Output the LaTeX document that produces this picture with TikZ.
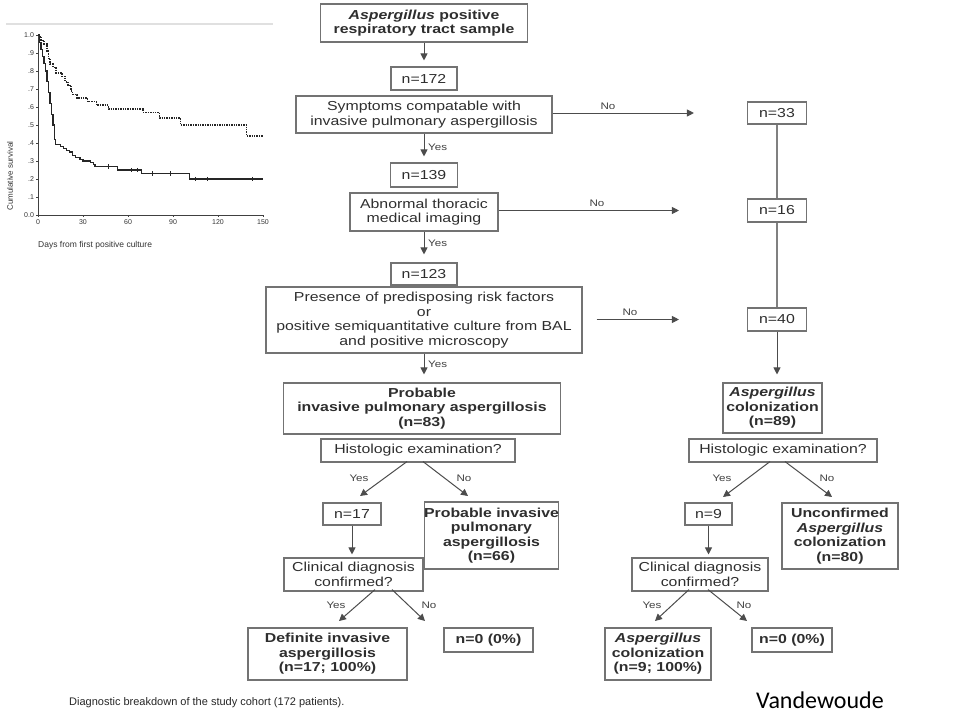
\documentclass[tikz,border=0pt]{standalone}
\usepackage{fontspec}
\setmainfont{Liberation Sans}
\newfontfamily\flow[FakeStretch=1.22]{Liberation Sans}
\newfontfamily\cali{Carlito}
\usetikzlibrary{arrows.meta}
\definecolor{boxc}{gray}{0.45}
\definecolor{txtc}{gray}{0.18}
\definecolor{arrc}{gray}{0.3}
\begin{document}
\begin{tikzpicture}[x=1pt,y=-1pt,
  flowbox/.style={draw=boxc, line width=1.1pt, inner sep=0pt, align=center, text=txtc,
    font=\flow\fontsize{13}{14.5}\selectfont},
  arr/.style={draw=arrc, line width=1pt, -{Triangle[length=7pt,width=7pt]}},
  conn/.style={draw=black!50, line width=1.3pt},
  lab/.style={font=\flow\fontsize{9.5}{10}\selectfont, text=black!75, inner sep=0pt},
  ticklab/.style={font=\fontsize{7}{8}\selectfont, text=black!80, inner sep=0pt},
  axis/.style={draw=black!75, line width=0.6pt},
  solidc/.style={draw=black!85, line width=1.3pt, line join=miter},
  dotc/.style={draw=black!85, line width=1.5pt, dash pattern=on 1.4pt off 1pt}]
\useasboundingbox (0,0) rectangle (960,720);

% ---------------- survival plot ----------------
\draw[draw=black!12, line width=2pt] (6,24) -- (273,24);
\begin{scope}[shift={(38,215)}, x=1.5pt, y=180pt]
  \draw[axis] (0,0) -- (0,1.0);
  \draw[axis] (0,0) -- (150,0);
  \foreach \v/\l in {0/0.0, 0.1/.1, 0.2/.2, 0.3/.3, 0.4/.4, 0.5/.5, 0.6/.6, 0.7/.7, 0.8/.8, 0.9/.9, 1/1.0}{
    \draw[axis] (0,\v) -- (-1.5,\v);
    \node[ticklab, anchor=east] at (-2.6,\v) {\l};
  }
  \foreach \d in {0,30,60,90,120,150}{
    \draw[axis] (\d,0) -- (\d,-0.012);
    \node[ticklab, anchor=north] at (\d,-0.025) {\d};
  }
  \draw[solidc] (0,1) -- (1,1) -- (1,.96) -- (2,.96) -- (2,.92) -- (3,.92) -- (3,.88) -- (4,.88)
    -- (4,.84) -- (5,.84) -- (5,.80) -- (6,.80) -- (6,.74) -- (7,.74) -- (7,.68) -- (8,.68)
    -- (8,.62) -- (9,.62) -- (9,.56) -- (10,.56) -- (10,.50) -- (11,.50) -- (11,.42) -- (11.5,.42)
    -- (11.5,.39) -- (15,.39) -- (15,.38) -- (17,.38) -- (17,.37) -- (19,.37) -- (19,.36) -- (21,.36)
    -- (21,.35) -- (23,.35) -- (23,.33) -- (25,.33) -- (25,.32) -- (28,.32) -- (28,.31) -- (30,.31)
    -- (30,.30) -- (35,.30) -- (35,.29) -- (37,.29) -- (37,.28) -- (38,.28) -- (38,.27) -- (53,.27)
    -- (53,.25) -- (69,.25) -- (69,.23) -- (101,.23) -- (101,.20) -- (150,.20);
  \foreach \d/\v in {47/.27, 62/.25, 66/.25, 76/.23, 88/.23, 105/.20, 113/.20, 143/.20}{
    \draw[black!85, line width=0.6pt] (\d,\v+0.012) -- (\d,\v-0.012);
  }
  \draw[dotc] (0,1) -- (1,1) -- (1,.99) -- (2,.99) -- (2,.97) -- (4,.97) -- (4,.95) -- (6,.95)
    -- (6,.91) -- (7,.91) -- (7,.87) -- (8,.87) -- (8,.84) -- (10,.84) -- (10,.82) -- (12,.82)
    -- (12,.79) -- (16,.79) -- (16,.77) -- (18,.77) -- (18,.74) -- (20,.74) -- (20,.72) -- (22,.72)
    -- (22,.69) -- (23,.69) -- (23,.67) -- (26,.67) -- (26,.65) -- (33,.65) -- (33,.63) -- (39,.63)
    -- (39,.61) -- (47,.61) -- (47,.59) -- (70,.59) -- (70,.57) -- (81,.57) -- (81,.54) -- (95,.54)
    -- (95,.50) -- (139,.50) -- (139,.44) -- (150,.44);
\end{scope}
\node[font=\fontsize{8}{9}\selectfont, text=black!80, rotate=90, inner sep=0pt] (ylab) at (10,176) {Cumulative survival};
\node[font=\fontsize{8.5}{9}\selectfont, text=black!80, anchor=west, inner sep=0pt] (xlab) at (38,245) {Days from first positive culture};

% ---------------- flowchart, main column ----------------
\node[flowbox, minimum width=207pt, minimum height=38pt] (b1) at (424,23)
  {\textbf{\textit{Aspergillus} positive}\\\textbf{respiratory tract sample}};
\node[flowbox, minimum width=66pt, minimum height=23pt] (n172) at (424,78.5) {n=172};
\node[flowbox, minimum width=256pt, minimum height=37pt] (symp) at (424,114.5)
  {Symptoms compatable with\\invasive pulmonary aspergillosis};
\node[flowbox, minimum width=67pt, minimum height=24pt] (n139) at (424,175) {n=139};
\node[flowbox, minimum width=148pt, minimum height=38pt] (abn) at (424,212)
  {Abnormal thoracic\\medical imaging};
\node[flowbox, minimum width=66pt, minimum height=22pt] (n123) at (424,274) {n=123};
\node[flowbox, minimum width=316pt, minimum height=66pt] (pres) at (424,320)
  {Presence of predisposing risk factors\\or\\positive semiquantitative culture from BAL\\and positive microscopy};

% ---------------- right column ----------------
\node[flowbox, minimum width=59pt, minimum height=22pt] (n33) at (777,113) {n=33};
\node[flowbox, minimum width=59pt, minimum height=23pt] (n16) at (777,210.5) {n=16};
\node[flowbox, minimum width=59pt, minimum height=23pt] (n40) at (777,319.5) {n=40};

% ---------------- left bottom ----------------
\node[flowbox, minimum width=277pt, minimum height=51pt] (prob) at (422,408.5)
  {\textbf{Probable}\\\textbf{invasive pulmonary aspergillosis}\\\textbf{(n=83)}};
\node[flowbox, minimum width=194pt, minimum height=23pt] (hist1) at (418,450.5) {Histologic examination?};
\node[flowbox, minimum width=58pt, minimum height=22pt] (n17) at (352,514) {n=17};
\node[flowbox, minimum width=131pt, minimum height=67pt] (pia) at (491.5,535.5)
  {\textbf{Probable invasive}\\\textbf{pulmonary}\\\textbf{aspergillosis}\\\textbf{(n=66)}};
\node[flowbox, minimum width=139pt, minimum height=33pt] (clin1) at (353.5,574.5)
  {Clinical diagnosis\\confirmed?};
\node[flowbox, minimum width=159pt, minimum height=52pt] (def) at (327.5,654)
  {\textbf{Definite invasive}\\\textbf{aspergillosis}\\\textbf{(n=17; 100\%)}};
\node[flowbox, minimum width=89pt, minimum height=24pt] (n0a) at (488.5,640) {\textbf{n=0 (0\%)}};

% ---------------- right bottom ----------------
\node[flowbox, minimum width=99pt, minimum height=50pt] (col) at (772.5,408)
  {\textbf{\textit{Aspergillus}}\\\textbf{colonization}\\\textbf{(n=89)}};
\node[flowbox, minimum width=188pt, minimum height=23pt] (hist2) at (783,450.5) {Histologic examination?};
\node[flowbox, minimum width=47pt, minimum height=22pt] (n9) at (708.5,514) {n=9};
\node[flowbox, minimum width=116pt, minimum height=66pt] (unc) at (840,536)
  {\textbf{Unconfirmed}\\\textbf{\textit{Aspergillus}}\\\textbf{colonization}\\\textbf{(n=80)}};
\node[flowbox, minimum width=136pt, minimum height=33pt] (clin2) at (700,574.5)
  {Clinical diagnosis\\confirmed?};
\node[flowbox, minimum width=106pt, minimum height=52pt] (acol) at (658,654)
  {\textbf{\textit{Aspergillus}}\\\textbf{colonization}\\\textbf{(n=9; 100\%)}};
\node[flowbox, minimum width=80pt, minimum height=24pt] (n0b) at (792,640) {\textbf{n=0 (0\%)}};

% ---------------- connectors, main column ----------------
\draw[arr, shorten >=6pt] (b1.south) -- (n172.north);
\draw[arr, shorten >=6pt] (symp.south) -- (n139.north);
\draw[arr, shorten >=8pt] (abn.south) -- (n123.north);
\draw[arr, shorten >=8pt] (pres.south) -- (pres.south |- prob.north);
\node[lab, anchor=west] (y1) at (428,147) {Yes};
\node[lab, anchor=west] (y2) at (428,243) {Yes};
\node[lab, anchor=west] (y3) at (428,364) {Yes};

% No branches
\draw[arr, shorten >=53pt] (symp.east |- n33.west) -- (n33.west);
\draw[arr, shorten >=68pt] (abn.east |- n16.west) -- (n16.west);
\draw[arr, shorten <=14pt, shorten >=68pt] (pres.east |- n40.west) -- (n40.west);
\node[lab] (no1) at (608,106) {No};
\node[lab] (no2) at (597,203) {No};
\node[lab] (no3) at (630,312) {No};

% right column
\draw[conn] (n33.south) -- (n16.north);
\draw[conn] (n16.south) -- (n40.north);
\draw[arr, shorten >=8pt] (n40.south) -- (n40.south |- col.north);

% ---------------- left bottom connectors ----------------
\coordinate (h1y) at (360,496);
\coordinate (h1n) at (468,496);
\draw[arr] ([xshift=-11pt,yshift=1pt]hist1.south) -- (h1y);
\draw[arr] ([xshift=5pt,yshift=1pt]hist1.south) -- (h1n);
\node[lab] (h1yl) at (359,478) {Yes};
\node[lab] (h1nl) at (464,478) {No};
\draw[arr, shorten >=3pt] (n17.south) -- (n17.south |- clin1.north);
\coordinate (c1y) at (339,621);
\coordinate (c1n) at (425,621);
\draw[arr] ([xshift=21.5pt,yshift=2pt]clin1.south) -- (c1y);
\draw[arr] ([xshift=38.5pt,yshift=2pt]clin1.south) -- (c1n);
\node[lab] (c1yl) at (336,605) {Yes};
\node[lab] (c1nl) at (429,605) {No};

% ---------------- right bottom connectors ----------------
\coordinate (h2y) at (723,497);
\coordinate (h2n) at (832,497);
\draw[arr] ([xshift=-13pt,yshift=1pt]hist2.south) -- (h2y);
\draw[arr] ([xshift=2pt,yshift=1pt]hist2.south) -- (h2n);
\node[lab] (h2yl) at (722,478) {Yes};
\node[lab] (h2nl) at (827,478) {No};
\draw[arr, shorten >=3pt] (n9.south) -- (n9.south |- clin2.north);
\coordinate (c2y) at (655,621);
\coordinate (c2n) at (747,621);
\draw[arr] ([xshift=-11pt,yshift=2pt]clin2.south) -- (c2y);
\draw[arr] ([xshift=8pt,yshift=2pt]clin2.south) -- (c2n);
\node[lab] (c2yl) at (652,605) {Yes};
\node[lab] (c2nl) at (744,605) {No};

% ---------------- caption & credit ----------------
\node[anchor=west, inner sep=0pt, font=\fontsize{11}{12}\selectfont, text=black!85] (cap) at (69,703)
  {Diagnostic breakdown of the study cohort (172 patients).};
\node[anchor=west, inner sep=0pt, font=\cali\fontsize{24}{28}\selectfont, text=black] (credit) at (756,700) {Vandewoude};
\end{tikzpicture}
\end{document}
